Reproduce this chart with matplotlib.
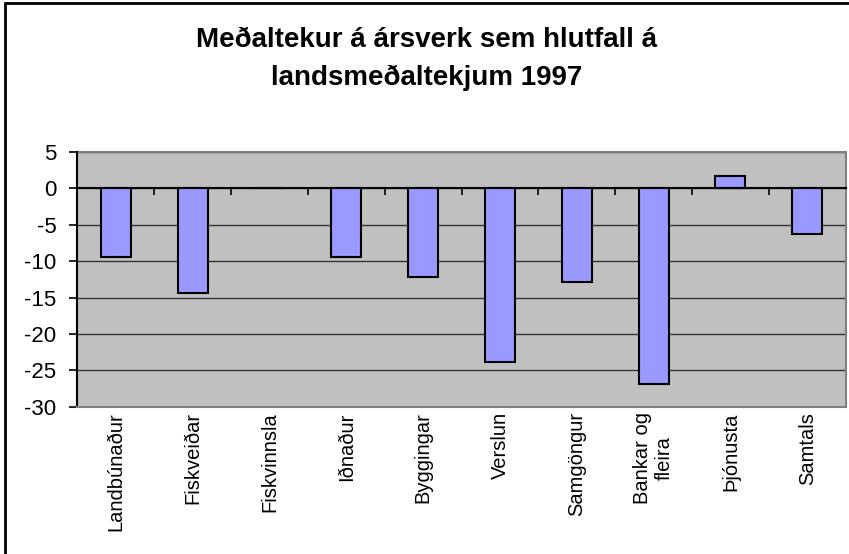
import matplotlib
matplotlib.use("Agg")
import matplotlib.pyplot as plt
from matplotlib.patches import Rectangle
import numpy as np

categories = ["Landbúnaður", "Fiskveiðar", "Fiskvinnsla", "Iðnaður", "Byggingar",
              "Verslun", "Samgöngur", "Bankar og\nfleira", "Þjónusta", "Samtals"]
values = [-9.5, -14.4, 0.0, -9.5, -12.2, -23.9, -12.9, -26.9, 1.7, -6.3]
yticks = [5, 0, -5, -10, -15, -20, -25, -30]
title = "Meðaltekur á ársverk sem hlutfall á\nlandsmeðaltekjum 1997"

plt.rcParams['font.family'] = ['Liberation Sans', 'DejaVu Sans']

fig = plt.figure(figsize=(8.49, 5.54), dpi=100)
fig.patch.set_facecolor('white')
ax = fig.add_axes([77.3/849, 1-406.7/554, (845.7-77.3)/849, (406.7-151.9)/554])
ax.set_facecolor('#C0C0C0')

x = np.arange(len(categories)) + 0.5
ax.bar(x, values, width=0.39, color='#9999FF', edgecolor='black', linewidth=1.5, zorder=3)

ax.set_xlim(0, len(categories))
ax.set_ylim(-30, 5)
ax.set_yticks(yticks)
ax.set_yticklabels([str(v) for v in yticks], fontsize=16)
ax.yaxis.grid(True, color='#333333', linewidth=1)
ax.set_axisbelow(True)

# category labels as minor ticks at centers
ax.set_xticks(np.arange(len(categories) + 1))
ax.set_xticks(x, minor=True)
ax.set_xticklabels(categories, minor=True)
ax.tick_params(axis='x', which='minor', bottom=True, top=False, length=0, pad=4,
               labelsize=14.5, labelrotation=90)
ax.tick_params(axis='x', which='major', bottom=False, top=True, labelbottom=False,
               labeltop=False, direction='in', length=5, width=1.2, color='black')
ax.tick_params(axis='y', direction='out', length=6, width=1.2, pad=9)
for lab in ax.get_xticklabels(minor=True):
    lab.set_rotation(90)
    lab.set_va('top')
    lab.set_ha('center')
    lab.set_multialignment('center')
    lab.set_linespacing(0.95)

for s in ['right', 'bottom']:
    ax.spines[s].set_color('#808080')
    ax.spines[s].set_linewidth(1.5)
ax.spines['left'].set_color('black')
ax.spines['left'].set_linewidth(1.5)
ax.spines['top'].set_position(('data', 0))
ax.spines['top'].set_color('black')
ax.spines['top'].set_linewidth(1.5)
ax.spines['top'].set_zorder(4)
ax.add_patch(Rectangle((0, 1), 1, 0, transform=ax.transAxes, fill=False,
                       edgecolor='#808080', linewidth=1.5, clip_on=False))

fig.text(0.503, 1-59/554, title, ha='center', va='center', fontsize=20,
         fontweight='bold', linespacing=1.6)

fig.add_artist(Rectangle((5/849, -0.1), 1.2, 1 - 3/554 + 0.1, transform=fig.transFigure,
                         fill=False, edgecolor='black', linewidth=2))

fig.savefig('out.png', dpi=100)
